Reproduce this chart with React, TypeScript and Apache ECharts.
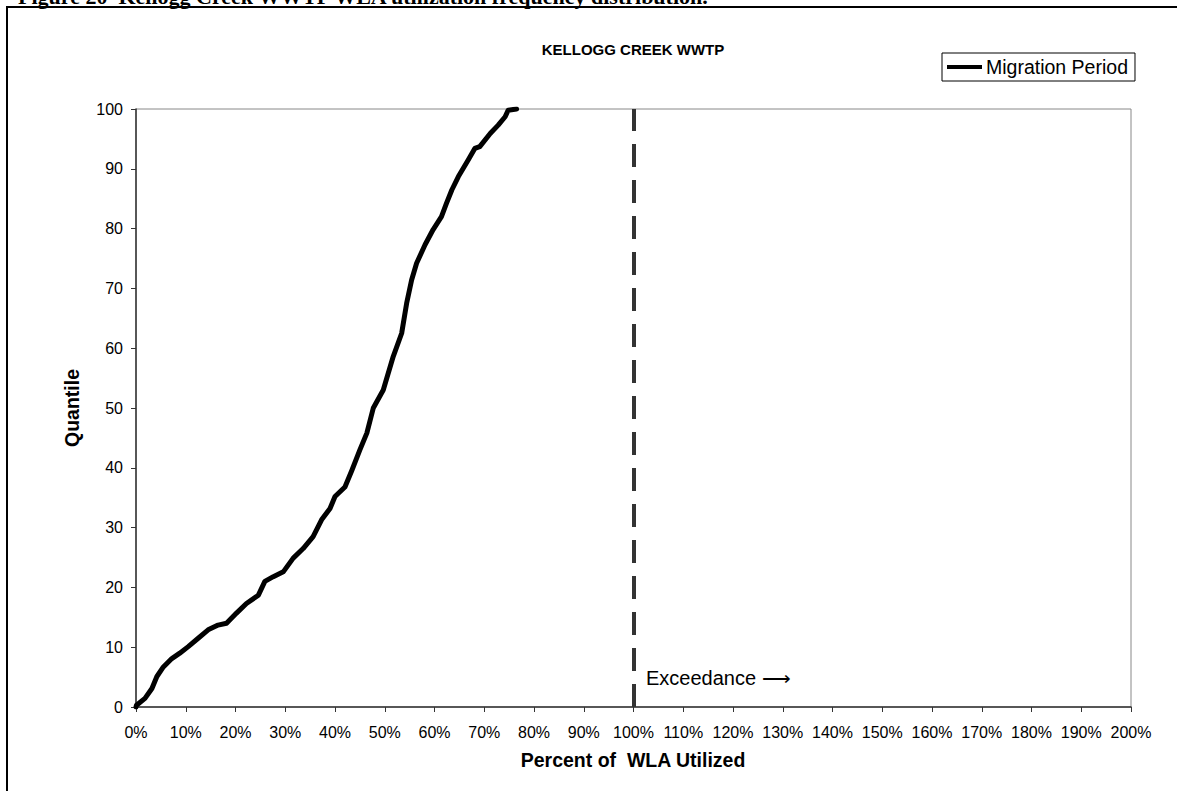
import React, { useEffect, useRef } from "react";
import * as echarts from "echarts";

// Percent of WLA utilized (x, %) and quantile (y)
const pctUtilized = [0, 0.1, 1.8, 3.2, 4.2, 5.5, 7.2, 8.8, 10.5, 12.5, 14.5, 16.5, 18.2, 20.2, 22.2, 24.6, 25.9, 27.6, 29.6, 31.6, 33.6, 35.6, 37.3, 39.0, 40.0, 42.0, 43.4, 45.0, 46.4, 47.7, 49.7, 51.7, 53.4, 54.4, 55.4, 56.4, 58.1, 59.7, 61.4, 62.4, 63.5, 64.8, 66.8, 68.1, 69.1, 71.2, 72.8, 74.2, 74.8, 76.5];
const quantile = [0, 0.3, 1.45, 3.1, 5.1, 6.7, 8.1, 9.0, 10.1, 11.5, 12.9, 13.7, 14.0, 15.7, 17.3, 18.7, 21.0, 21.8, 22.6, 24.9, 26.5, 28.5, 31.3, 33.2, 35.2, 36.8, 39.6, 43.0, 45.8, 50.0, 53.0, 58.6, 62.5, 67.5, 71.4, 74.2, 77.3, 79.8, 82.0, 84.2, 86.5, 88.7, 91.5, 93.4, 93.7, 95.9, 97.3, 98.7, 99.8, 100];
const seriesName = "Migration Period";
const wlaLimit = 100;

const FONT = "'Liberation Sans', Arial, sans-serif";

export default function App() {
  const ref = useRef<HTMLDivElement>(null);
  useEffect(() => {
    if (!ref.current) return;
    const chart = echarts.init(ref.current, null, { renderer: "svg" });
    const data = pctUtilized.map((x, i) => [x, quantile[i]]);
    chart.setOption({
      animation: false,
      backgroundColor: "#fff",
      textStyle: { fontFamily: FONT },
      grid: {
        left: 136,
        right: 46,
        top: 109,
        bottom: 84,
        show: true,
        borderColor: "#888",
        borderWidth: 1,
        backgroundColor: "transparent",
      },
      legend: {
        data: [seriesName],
        left: 942,
        top: 53,
        orient: "horizontal",
        borderColor: "#000",
        borderWidth: 1,
        padding: [4, 7, 4, 5],
        icon: "rect",
        itemWidth: 35,
        itemHeight: 4,
        itemGap: 4,
        textStyle: { fontFamily: FONT, fontSize: 19.5, color: "#000", padding: [0, 0, 0, -1] },
      },
      xAxis: {
        type: "value",
        min: 0,
        max: 200,
        interval: 10,
        axisLine: { show: true, lineStyle: { color: "#333", width: 1.5 } },
        axisTick: { show: true, length: 5, lineStyle: { color: "#333" } },
        splitLine: { show: false },
        axisLabel: { formatter: "{value}%", color: "#000", fontSize: 16, fontFamily: FONT, margin: 17 },
      },
      yAxis: {
        type: "value",
        min: 0,
        max: 100,
        interval: 10,
        axisLine: { show: true, lineStyle: { color: "#333", width: 1.5 } },
        axisTick: { show: true, length: 5, lineStyle: { color: "#333" } },
        splitLine: { show: false },
        axisLabel: { color: "#000", fontSize: 16, fontFamily: FONT, margin: 13 },
      },
      series: [
        {
          name: seriesName,
          type: "line",
          data,
          showSymbol: false,
          symbol: "none",
          lineStyle: { color: "#000", width: 5, join: "round", cap: "round" },
          itemStyle: { color: "#000" },
          markLine: {
            silent: true,
            symbol: ["none", "none"],
            label: { show: false },
            lineStyle: { color: "#333", width: 4, type: [23, 13] },
            data: [{ xAxis: wlaLimit }],
          },
        },
      ],
      graphic: [
        {
          type: "rect",
          shape: { x: 7, y: 7, width: 1300, height: 900 },
          style: { fill: "none", stroke: "#000", lineWidth: 2 },
          silent: true,
        },
        {
          type: "text",
          x: 18,
          y: -4,
          style: {
            text: "Figure 20  Kellogg Creek WWTP WLA utilization frequency distribution.",
            font: "bold 22px 'Liberation Serif', 'Times New Roman', serif",
            fill: "#000",
            verticalAlign: "middle",
            align: "left",
          },
        },
        {
          type: "text",
          x: 633,
          y: 49,
          style: {
            text: "KELLOGG CREEK WWTP",
            font: `bold 15px ${FONT}`,
            fill: "#000",
            align: "center",
            verticalAlign: "middle",
          },
        },
        {
          type: "text",
          x: 633,
          y: 760,
          style: {
            text: "Percent of  WLA Utilized",
            font: `bold 19.5px ${FONT}`,
            fill: "#000",
            align: "center",
            verticalAlign: "middle",
          },
        },
        {
          type: "text",
          x: 72,
          y: 408,
          rotation: Math.PI / 2,
          style: {
            text: "Quantile",
            font: `bold 19.5px ${FONT}`,
            fill: "#000",
            align: "center",
            verticalAlign: "middle",
          },
        },
        {
          type: "text",
          x: 646,
          y: 678,
          style: {
            text: "Exceedance ⟶",
            font: `20px ${FONT}`,
            fill: "#000",
            align: "left",
            verticalAlign: "middle",
          },
        },
      ],
    });
    return () => chart.dispose();
  }, []);
  return (
    <div
      ref={ref}
      style={{ position: "absolute", left: 0, top: 0, width: 1177, height: 791, background: "#fff" }}
    />
  );
}
